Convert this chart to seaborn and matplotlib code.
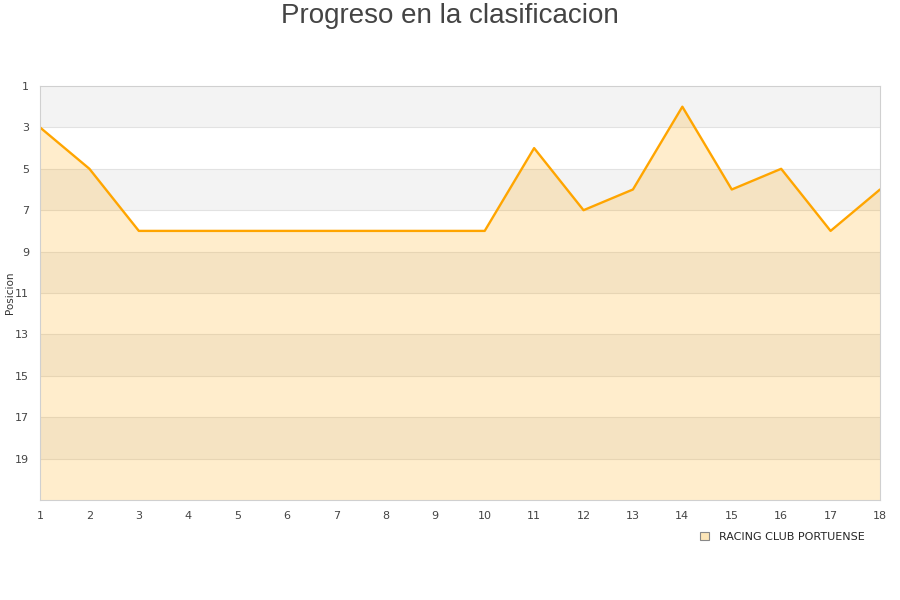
import matplotlib
matplotlib.use("Agg")
import matplotlib.pyplot as plt
import seaborn as sns
import pandas as pd
from matplotlib.patches import Rectangle

jornadas = list(range(1, 19))
posiciones = [3, 5, 8, 8, 8, 8, 8, 8, 8, 8, 4, 7, 6, 2, 6, 5, 8, 6]
team = "RACING CLUB PORTUENSE"
y_ticks = [1, 3, 5, 7, 9, 11, 13, 15, 17, 19]

sns.set_style("white")
plt.rcParams['font.family'] = ['DejaVu Sans']

df = pd.DataFrame({"Jornada": jornadas, "Posicion": posiciones})

fig = plt.figure(figsize=(9, 6), dpi=100)
ax = fig.add_axes([40/900, 100/600, 840/900, 414/600])

# alternating bands
for start in range(1, 21, 4):
    ax.axhspan(start, start + 2, color="#f3f3f3", zorder=0, lw=0)
for y in y_ticks[1:]:
    ax.axhline(y, color="#e2e2e2", lw=0.8, zorder=0.5)

ax.fill_between(df["Jornada"], df["Posicion"], 21, color="#ffa500", alpha=0.2, lw=0, zorder=1)
sns.lineplot(data=df, x="Jornada", y="Posicion", ax=ax, color="#ffa500", lw=1.7, zorder=2)

ax.set_xlim(1, 18)
ax.set_ylim(21, 1)
ax.set_xticks(jornadas)
ax.set_yticks(y_ticks)
ax.tick_params(axis="both", labelsize=8, colors="#444444", length=0, pad=8)
ax.set_xlabel("")
ax.set_ylabel("")
fig.text(10/900, 1 - 293/600, "Posicion", rotation=90, ha="center", va="center",
         fontsize=7.5, color="#333333")
for s in ax.spines.values():
    s.set_color("#d0d0d0")
    s.set_linewidth(0.8)

fig.text(0.5, 1 - 16/600, "Progreso en la clasificacion", ha="center", va="center",
         fontsize=20, color="#444444", family=["Liberation Sans", "DejaVu Sans"])

handle = Rectangle((0, 0), 1, 1, facecolor="#fde6b8", edgecolor="#888888", lw=0.8)
leg = fig.legend([handle], [team], loc="center left", bbox_to_anchor=(690/900, 1 - 537/600),
                 frameon=False, fontsize=8, handlelength=0.8, handleheight=0.8, handletextpad=0.9)

fig.savefig("out.png", dpi=100)
